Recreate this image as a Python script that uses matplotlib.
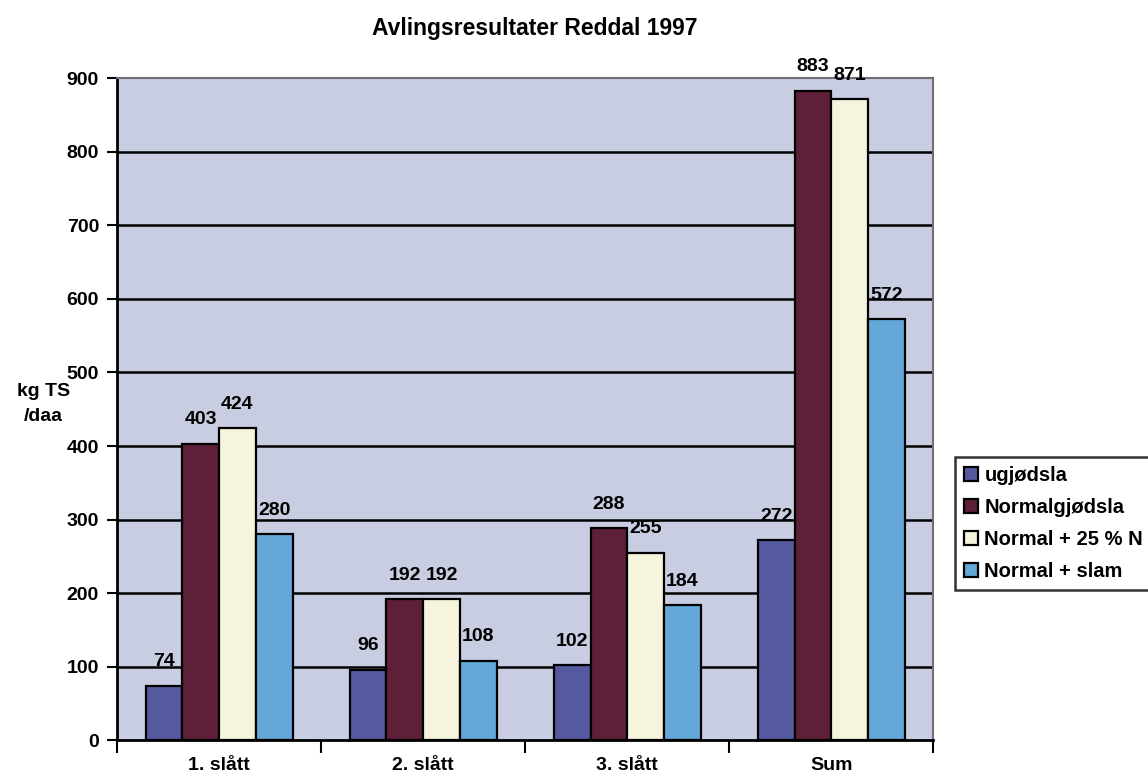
import numpy as np
import matplotlib
matplotlib.use("Agg")
import matplotlib.pyplot as plt
from matplotlib.ticker import FixedLocator

plt.rcParams["font.family"] = ["Liberation Sans", "DejaVu Sans"]
plt.rcParams["font.weight"] = "bold"

categories = ["1. slått", "2. slått", "3. slått", "Sum"]
series_names = ["ugjødsla", "Normalgjødsla", "Normal + 25 % N", "Normal + slam"]
ugjodsla = [74, 96, 102, 272]
normalgjodsla = [403, 192, 288, 883]
normal_25n = [424, 192, 255, 871]
normal_slam = [280, 108, 184, 572]

colors = ["#5459a0", "#5e1f38", "#f6f4dc", "#63a8d8"]

fig = plt.figure(figsize=(11.48, 7.81), dpi=100)
ax = fig.add_axes([0.102, 0.052, 0.711, 0.848])
ax.set_facecolor("#c9cde2")

x = np.arange(len(categories))
width = 0.18
all_series = [ugjodsla, normalgjodsla, normal_25n, normal_slam]
for i, (vals, name, col) in enumerate(zip(all_series, series_names, colors)):
    pos = x + (i - 1.5) * width
    bars = ax.bar(pos, vals, width, color=col, edgecolor="black", linewidth=1.6,
                  label=name, zorder=3)
    for b, v in zip(bars, vals):
        ax.annotate(str(v), (b.get_x() + b.get_width() / 2, v), xytext=(0, 14),
                    textcoords="offset points", ha="center", va="baseline",
                    fontsize=14, fontweight="bold", zorder=4)

ax.set_xlim(-0.5, 3.5)
ax.set_ylim(0, 900)
ax.set_yticks(range(0, 901, 100))
ax.tick_params(axis="y", labelsize=14, length=7, width=1.5, direction="out", pad=6)
for gy in range(100, 900, 100):
    ax.axhline(gy, color="black", linewidth=1.8, zorder=1)

ax.set_xticks(x)
ax.set_xticklabels(categories, fontsize=14, fontweight="bold")
ax.tick_params(axis="x", which="major", length=0, pad=12)
ax.xaxis.set_minor_locator(FixedLocator([-0.5, 0.5, 1.5, 2.5, 3.5]))
ax.tick_params(axis="x", which="minor", length=9, width=1.5, direction="out")

for side in ["left", "bottom"]:
    ax.spines[side].set_color("black")
    ax.spines[side].set_linewidth(2)
for side in ["top", "right"]:
    ax.spines[side].set_color("#6f6f78")
    ax.spines[side].set_linewidth(1.5)

fig.text(0.038, 0.483, "kg TS\n/daa", fontsize=14, fontweight="bold",
         ha="center", va="center", linespacing=1.65)
fig.text(0.466, 0.963, "Avlingsresultater Reddal 1997", fontsize=16.5,
         fontweight="bold", ha="center", va="center")

leg = fig.legend(loc="upper left", bbox_to_anchor=(0.832, 0.415), frameon=True,
                 fancybox=False, prop={"size": 14.5, "weight": "bold"},
                 handlelength=0.7, handleheight=0.7, handletextpad=0.3,
                 labelspacing=0.65, borderpad=0.45, borderaxespad=0)
leg.get_frame().set_edgecolor("black")
leg.get_frame().set_linewidth(1.8)

fig.savefig("out.png", dpi=100)
